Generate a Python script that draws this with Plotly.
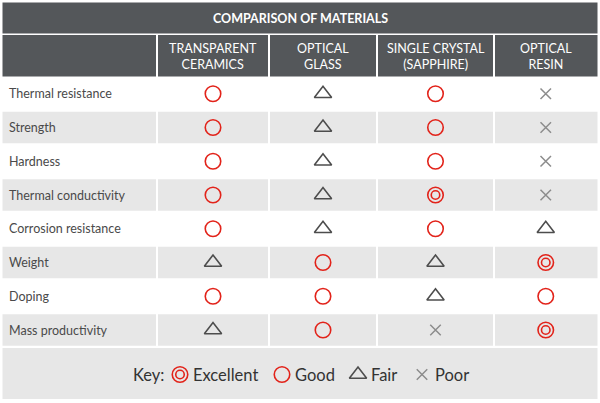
import plotly.graph_objects as go

# ---------------- data ----------------
title = "COMPARISON OF MATERIALS"
properties = [
    "Thermal resistance", "Strength", "Hardness", "Thermal conductivity",
    "Corrosion resistance", "Weight", "Doping", "Mass productivity",
]
materials = ["TRANSPARENT<br>CERAMICS", "OPTICAL<br>GLASS",
             "SINGLE CRYSTAL<br>(SAPPHIRE)", "OPTICAL<br>RESIN"]
ceramics = ["Good", "Good", "Good", "Good", "Good", "Fair", "Good", "Fair"]
glass = ["Fair", "Fair", "Fair", "Fair", "Fair", "Good", "Good", "Good"]
sapphire = ["Good", "Good", "Good", "Excellent", "Good", "Fair", "Fair", "Poor"]
resin = ["Poor", "Poor", "Poor", "Poor", "Fair", "Excellent", "Good", "Excellent"]
ratings = [ceramics, glass, sapphire, resin]
key_labels = ["Excellent", "Good", "Fair", "Poor"]

# ---------------- layout constants ----------------
W, H = 600, 403
col_edges = [2.5, 157, 269, 377, 494, 597.5]
gap = 1.0
title_top, title_bot = 2.5, 33.5
head_top, head_bot = 35, 76.5
row_top0, row_h, cell_h = 78, 33.75, 31.5
key_top, key_bot = 348, 399
key_sym_x = [180, 282, 358, 422]
key_y = 374.5
key_word_right = 166

DARK = "#54575a"
LIGHT = "#e7e7e7"
RED = "#e2231a"
TRI = "#4d4d4d"
XC = "#8c8c8c"
TXT = "#4a4a4a"
FONT = "Lato"

styles = {
    "Excellent": [dict(symbol="circle-open", size=15.5, color=RED, w=1.6),
                  dict(symbol="circle-open", size=8.5, color=RED, w=1.6)],
    "Good": [dict(symbol="circle-open", size=15.5, color=RED, w=1.6)],
    "Fair": [dict(symbol="triangle-up-open", size=15, color=TRI, w=1.6)],
    "Poor": [dict(symbol="x-thin-open", size=10.5, color=XC, w=1.5)],
}

def row_center(i):
    return row_top0 + i * row_h + cell_h / 2

def col_center(j):
    return (col_edges[j] + col_edges[j + 1]) / 2

fig = go.Figure()
shapes = []
annotations = []

# title bar
shapes.append(dict(type="rect", xref="x", yref="y", x0=col_edges[0], x1=col_edges[-1],
                   y0=title_top, y1=title_bot, fillcolor=DARK, line=dict(width=0), layer="below"))
annotations.append(dict(x=W / 2, y=(title_top + title_bot) / 2, xref="x", yref="y",
                        text="<b>" + title + "</b>", showarrow=False,
                        font=dict(family=FONT, size=12.5, color="white")))

# header cells
for j in range(len(col_edges) - 1):
    x0 = col_edges[j] + (gap if j > 0 else 0)
    x1 = col_edges[j + 1] - (gap if j < len(col_edges) - 2 else 0)
    shapes.append(dict(type="rect", xref="x", yref="y", x0=x0, x1=x1, y0=head_top, y1=head_bot,
                       fillcolor=DARK, line=dict(width=0), layer="below"))
for j, m in enumerate(materials):
    annotations.append(dict(x=col_center(j + 1), y=(head_top + head_bot) / 2 + 0.5, xref="x", yref="y",
                            text=m, showarrow=False, align="center",
                            font=dict(family=FONT, size=12.5, color="white")))

# body rows
for i, p in enumerate(properties):
    top = row_top0 + i * row_h
    if i % 2 == 1:
        for j in range(len(col_edges) - 1):
            x0 = col_edges[j] + (gap if j > 0 else 0)
            x1 = col_edges[j + 1] - (gap if j < len(col_edges) - 2 else 0)
            shapes.append(dict(type="rect", xref="x", yref="y", x0=x0, x1=x1,
                               y0=top, y1=top + cell_h, fillcolor=LIGHT,
                               line=dict(width=0), layer="below"))
    annotations.append(dict(x=7, y=row_center(i), xref="x", yref="y", text=p,
                            showarrow=False, xanchor="left",
                            font=dict(family=FONT, size=12.5, color=TXT)))

# key band
shapes.append(dict(type="rect", xref="x", yref="y", x0=col_edges[0], x1=col_edges[-1],
                   y0=key_top, y1=key_bot, fillcolor=LIGHT, line=dict(width=0), layer="below"))
annotations.append(dict(x=key_word_right, y=key_y, xref="x", yref="y", text="Key:",
                        showarrow=False, xanchor="right",
                        font=dict(family=FONT, size=16.5, color="#333333")))
for k, lab in enumerate(key_labels):
    annotations.append(dict(x=key_sym_x[k] + 11, y=key_y, xref="x", yref="y", text=lab,
                            showarrow=False, xanchor="left",
                            font=dict(family=FONT, size=16.5, color="#333333")))

# symbol traces
for level, layers in styles.items():
    for li, st in enumerate(layers):
        xs, ys = [], []
        for j, col in enumerate(ratings):
            for i, r in enumerate(col):
                if r == level:
                    xs.append(col_center(j + 1))
                    ys.append(row_center(i))
        k = key_labels.index(level)
        xs.append(key_sym_x[k])
        ys.append(key_y)
        fig.add_trace(go.Scatter(
            x=xs, y=ys, mode="markers", hoverinfo="skip",
            marker=dict(symbol=st["symbol"], size=st["size"], color=st["color"],
                        line=dict(color=st["color"], width=st["w"])),
        ))

fig.update_layout(
    width=W, height=H, margin=dict(l=0, r=0, t=0, b=0),
    paper_bgcolor="white", plot_bgcolor="white", showlegend=False,
    xaxis=dict(range=[0, W], visible=False, fixedrange=True),
    yaxis=dict(range=[H, 0], visible=False, fixedrange=True),
    shapes=shapes, annotations=annotations,
)

fig.write_html("out.html", config={"displayModeBar": False},
               post_script="document.body.style.margin='0px';document.body.style.overflow='hidden';")
